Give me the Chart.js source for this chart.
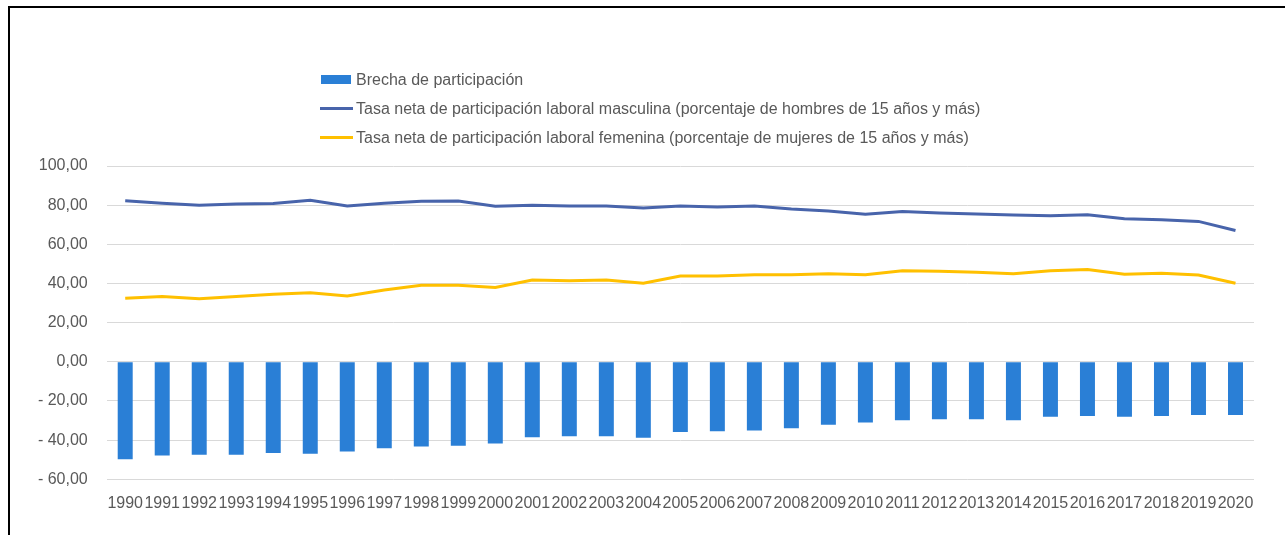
<!DOCTYPE html>
<html>
<head>
<meta charset="utf-8">
<script src="https://cdn.jsdelivr.net/npm/chart.js@4"></script>
<style>
  html, body { margin: 0; padding: 0; background: #fff; overflow: hidden; }
  #wrap { position: relative; width: 1285px; height: 535px; }
  #frame {
    position: absolute; left: 8px; top: 6px; width: 1400px; height: 700px;
    border-left: 2px solid #000; border-top: 2px solid #000;
  }
  #chart { position: absolute; left: 0; top: 0; }
  #legend {
    position: absolute; left: 320px; top: 65px;
    font-family: "Liberation Sans", Arial, sans-serif; font-size: 16px; color: #595959;
  }
  .item { display: flex; align-items: center; height: 29px; white-space: nowrap; }
  .mark { width: 33px; margin-right: 3px; display: flex; align-items: center; }
</style>
</head>
<body>
<div id="wrap">
  <div id="frame"></div>
  <canvas id="chart" width="1285" height="535"></canvas>
  <div id="legend"></div>
</div>
<script>
// --- Data ---
const years = ["1990","1991","1992","1993","1994","1995","1996","1997","1998","1999",
  "2000","2001","2002","2003","2004","2005","2006","2007","2008","2009",
  "2010","2011","2012","2013","2014","2015","2016","2017","2018","2019","2020"];

const brecha = [-49.7, -47.8, -47.5, -47.5, -46.6, -47.0, -45.8, -44.1, -43.2, -42.9,
  -41.7, -38.5, -38.0, -38.0, -38.8, -35.9, -35.4, -35.1, -33.9, -32.2,
  -31.0, -29.8, -29.3, -29.3, -29.8, -28.1, -27.7, -28.1, -27.7, -27.2, -27.2];

const masculina = [82.3, 81.0, 79.9, 80.6, 80.8, 82.5, 79.6, 81.0, 82.0, 82.1,
  79.4, 79.9, 79.6, 79.6, 78.5, 79.6, 79.1, 79.6, 78.0, 77.0,
  75.3, 76.8, 76.0, 75.5, 75.0, 74.6, 75.1, 73.1, 72.6, 71.7, 67.1];

const femenina = [32.4, 33.3, 32.2, 33.3, 34.5, 35.3, 33.6, 36.7, 39.1, 39.1,
  38.0, 41.8, 41.4, 41.8, 40.1, 43.8, 43.8, 44.5, 44.5, 45.0,
  44.5, 46.5, 46.2, 45.7, 45.0, 46.5, 47.2, 44.7, 45.2, 44.3, 40.1];

const seriesNames = [
  "Brecha de participación",
  "Tasa neta de participación laboral masculina (porcentaje de hombres de 15 años y más)",
  "Tasa neta de participación laboral femenina (porcentaje de mujeres de 15 años y más)"
];

// --- Helpers ---
const textColor = "#595959";
const gridColor = "#d9d9d9";
const font = { family: "'Liberation Sans', Arial, sans-serif", size: 16 };
const fmtTick = v => (v < 0 ? "- " : "") + Math.abs(v).toFixed(2).replace(".", ",");

// --- Chart ---
const chart = new Chart(document.getElementById("chart"), {
  type: "bar",
  data: {
    labels: years,
    datasets: [
      { label: seriesNames[0], data: brecha, backgroundColor: "#2a7fd6",
        categoryPercentage: 1, barPercentage: 0.405, order: 2 },
      { type: "line", label: seriesNames[1], data: masculina, borderColor: "#4864ab",
        backgroundColor: "#4864ab", borderWidth: 3, pointRadius: 0, tension: 0, order: 1 },
      { type: "line", label: seriesNames[2], data: femenina, borderColor: "#ffc000",
        backgroundColor: "#ffc000", borderWidth: 3, pointRadius: 0, tension: 0, order: 0 }
    ]
  },
  options: {
    responsive: false,
    animation: false,
    devicePixelRatio: 1,
    layout: { padding: { top: 166, right: 31, left: 0, bottom: 0 } },
    plugins: { legend: { display: false }, tooltip: { enabled: false } },
    scales: {
      x: {
        grid: { display: false },
        border: { display: false },
        ticks: { color: textColor, font, autoSkip: false, maxRotation: 0, minRotation: 0, padding: 7 },
        afterFit: s => { s.height = 55.7; }
      },
      y: {
        min: -60, max: 100,
        grid: { color: gridColor, lineWidth: 1, drawTicks: false },
        border: { display: false },
        ticks: { stepSize: 20, color: textColor, font, padding: 19, callback: fmtTick },
        afterFit: s => { s.width = 106.7; }
      }
    }
  }
});

// --- HTML legend (stacked vertically, in dataset order) ---
const items = chart.options.plugins.legend.labels.generateLabels(chart)
  .sort((a, b) => a.datasetIndex - b.datasetIndex);
document.getElementById("legend").innerHTML = items.map(it => {
  const ds = chart.data.datasets[it.datasetIndex];
  const mark = ds.type === "line"
    ? `<div style="width:33px;height:3px;background:${ds.borderColor}"></div>`
    : `<div style="width:30px;height:9px;background:${ds.backgroundColor};margin-left:1px"></div>`;
  return `<div class="item"><div class="mark">${mark}</div><span>${it.text}</span></div>`;
}).join("");
</script>
</body>
</html>
